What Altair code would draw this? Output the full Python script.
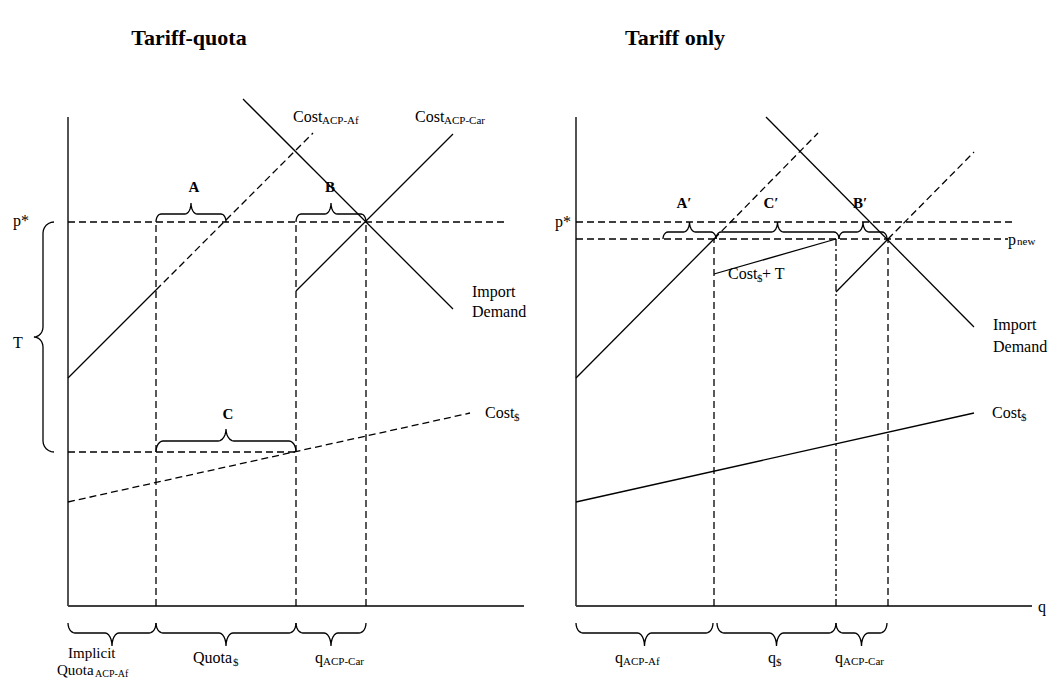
import numpy as np
import pandas as pd
import altair as alt

FONT = "Liberation Serif"

# ---------------- Tariff-quota panel (quantity q, price p; origin at axes corner)
tq_axis_len = [456, 489]                 # x-axis length, y-axis height
tq_p_star = 384
tq_p_quota = 154                         # Cost$ at the end of the $ quota
tq_q_bounds = [88, 228, 298]             # implicit quota ACP-Af | quota$ | q ACP-Car
tq_cost_af_q = [0, 88, 245]
tq_cost_af_p = [228, 316, 473]
tq_cost_car_q = [228, 385]
tq_cost_car_p = [315, 472]
tq_demand_q = [175, 385]
tq_demand_p = [507, 297]
tq_cost_d_q = [0, 402]
tq_cost_d_p = [104, 193]

# ---------------- Tariff only panel
to_axis_len = [456, 489]
to_p_star = 384
to_p_new = 367
to_q_bounds = [138, 260, 312]
to_cost_af_q = [0, 138, 242]
to_cost_af_p = [228, 367, 473]
to_cost_dT_q = [138, 260]
to_cost_dT_p = [332, 367]
to_cost_car_q = [260, 312, 398]
to_cost_car_p = [314, 367, 454]
to_demand_q = [190, 398]
to_demand_p = [489, 279]
to_cost_d_q = [0, 398]
to_cost_d_p = [104, 193]

panel_offset = {"L": 0, "R": 508}

# ---------------- line segments
rows = []
def seg(panel, q1, p1, q2, p2, style):
    rows.append(dict(panel=panel, q1=q1, p1=p1, q2=q2, p2=p2, style=style))

# left
seg("L", 0, 0, tq_axis_len[0], 0, "axis")
seg("L", 0, 0, 0, tq_axis_len[1], "axis")
seg("L", 0, tq_p_star, 439, tq_p_star, "dash")
seg("L", 0, tq_p_quota, tq_q_bounds[1], tq_p_quota, "dash")
for qb in tq_q_bounds:
    seg("L", qb, 0, qb, tq_p_star, "dash")
seg("L", tq_cost_af_q[0], tq_cost_af_p[0], tq_cost_af_q[1], tq_cost_af_p[1], "solid")
seg("L", tq_cost_af_q[1], tq_cost_af_p[1], tq_cost_af_q[2], tq_cost_af_p[2], "dash")
seg("L", tq_cost_car_q[0], tq_cost_car_p[0], tq_cost_car_q[1], tq_cost_car_p[1], "solid")
seg("L", tq_demand_q[0], tq_demand_p[0], tq_demand_q[1], tq_demand_p[1], "solid")
seg("L", tq_cost_d_q[0], tq_cost_d_p[0], tq_cost_d_q[1], tq_cost_d_p[1], "dash")
# right
seg("R", 0, 0, to_axis_len[0], 0, "axis")
seg("R", 0, 0, 0, to_axis_len[1], "axis")
seg("R", 0, to_p_star, 437, to_p_star, "dash")
seg("R", 0, to_p_new, 432, to_p_new, "dash")
seg("R", to_q_bounds[0], 0, to_q_bounds[0], to_p_new, "dash")
seg("R", to_q_bounds[1], 0, to_q_bounds[1], to_p_new, "dashdot")
seg("R", to_q_bounds[2], 0, to_q_bounds[2], to_p_new, "dash")
seg("R", to_cost_af_q[0], to_cost_af_p[0], to_cost_af_q[1], to_cost_af_p[1], "solid")
seg("R", to_cost_af_q[1], to_cost_af_p[1], to_cost_af_q[2], to_cost_af_p[2], "dash")
seg("R", to_cost_dT_q[0], to_cost_dT_p[0], to_cost_dT_q[1], to_cost_dT_p[1], "solid")
seg("R", to_cost_car_q[0], to_cost_car_p[0], to_cost_car_q[1], to_cost_car_p[1], "solid")
seg("R", to_cost_car_q[1], to_cost_car_p[1], to_cost_car_q[2], to_cost_car_p[2], "dash")
seg("R", to_demand_q[0], to_demand_p[0], to_demand_q[1], to_demand_p[1], "solid")
seg("R", to_cost_d_q[0], to_cost_d_p[0], to_cost_d_q[1], to_cost_d_p[1], "solid")

segs = pd.DataFrame(rows)
segs["X"] = segs.q1 + segs.panel.map(panel_offset)
segs["X2"] = segs.q2 + segs.panel.map(panel_offset)
segs["P"] = segs.p1
segs["P2"] = segs.p2

# ---------------- braces: spans along the axis
tq_top_braces = [(88, 158), (228, 298)]
tq_c_brace = (88, 228)
tq_bottom_braces = [(0, 88), (88, 228), (228, 298)]
tq_t_brace = (tq_p_quota, tq_p_star)
to_top_braces = [(87, 140), (140, 263), (263, 311)]
to_bottom_braces = [(0, 137), (141, 260), (260, 311)]
bottom_base = -17

def brace_points(a, b, base, sign, r1a, r1p, r2a, r2p, n=7):
    """(along, perp) points of a curly brace between a and b."""
    m = (a + b) / 2
    pts = []
    for t in np.linspace(np.pi, np.pi / 2, n):
        pts.append((a + r1a + r1a * np.cos(t), base + sign * r1p * np.sin(t)))
    for t in np.linspace(1.5 * np.pi, 2 * np.pi, n):
        pts.append((m - r2a + r2a * np.cos(t), base + sign * (r1p + r2p + r2p * np.sin(t))))
    for t in np.linspace(np.pi, 1.5 * np.pi, n):
        pts.append((m + r2a + r2a * np.cos(t), base + sign * (r1p + r2p + r2p * np.sin(t))))
    for t in np.linspace(np.pi / 2, 0, n):
        pts.append((b - r1a + r1a * np.cos(t), base + sign * r1p * np.sin(t)))
    return pts

brows = []
bid = 0
def add_brace(panel, a, b, base, sign, r1a, r1p, r2a, r2p, vertical=False):
    global bid
    for i, (u, v) in enumerate(brace_points(a, b, base, sign, r1a, r1p, r2a, r2p)):
        q, p = (v, u) if vertical else (u, v)
        brows.append(dict(bid=bid, i=i, X=q + panel_offset[panel], P=p))
    bid += 1

for a, b in tq_top_braces:
    add_brace("L", a, b, tq_p_star, 1, 5, 8, 6, 11)
add_brace("L", tq_c_brace[0], tq_c_brace[1], tq_p_quota, 1, 7, 11, 8, 12)
for a, b in tq_bottom_braces:
    add_brace("L", a, b, bottom_base, -1, 7, 10, 7, 13)
add_brace("L", tq_t_brace[0], tq_t_brace[1], -14, -1, 11, 11, 10, 9, vertical=True)
for a, b in to_top_braces:
    add_brace("R", a, b, to_p_new, 1, 5, 7, 6, 10)
for a, b in to_bottom_braces:
    add_brace("R", a, b, bottom_base, -1, 7, 10, 7, 13)
braces = pd.DataFrame(brows)

# ---------------- text labels
label_panel = ["L"] * 11 + ["R"] * 10
label_text = ["Cost", "Cost", "Import", "Demand", "Cost", "p*", "T", "Implicit", "Quota", "Quota", "q",
              "p*", "p", "Import", "Demand", "Cost", "Cost", "+ T", "q", "q", "q"]
label_q = [225, 347, 404, 404, 417, -55, -55, 0, -11, 125, 247,
           -21, 432, 417, 417, 416, 152, 186, 39, 192, 259]
label_p = [484, 484, 309, 289, 188, 380, 258, -52, -69, -57, -57,
           379, 361, 276, 254, 188, 327, 327, -57, -57, -57]
label_size = [16, 16, 16, 16, 16, 16, 16, 15, 15, 16, 16,
              16, 16, 16, 16, 16, 16, 16, 16, 16, 16]

sub_panel = ["L"] * 6 + ["R"] * 6
sub_text = ["ACP-Af", "ACP-Car", "$", "ACP-Af", "$", "ACP-Car",
            "new", "$", "$", "ACP-Af", "$", "ACP-Car"]
sub_q = [254, 376, 446, 27, 165, 255,
         441, 445, 181, 47, 200, 267]
sub_p = [482, 482, 185, -71, -60, -59,
         361, 185, 324, -59, -60, -59]
sub_size = [11, 11, 11, 10, 11, 11, 11, 11, 11, 11, 11, 11]

bold_panel = ["L", "L", "L", "R", "R", "R"]
bold_text = ["A", "B", "C", "A′", "C′", "B′"]
bold_q = [126, 262, 160, 108, 195, 284]
bold_p = [414, 414, 187, 398, 398, 398]

title_panel = ["L", "R"]
title_text = ["Tariff-quota", "Tariff only"]
title_q = [121, 99]
title_p = [561, 561]

axis_label_panel = ["R"]
axis_label_text = ["q"]
axis_label_q = [462]
axis_label_p = [-6]

def tframe(panel, text, q, p, size=None):
    d = pd.DataFrame(dict(panel=panel, text=text, q=q, p=p))
    if size is not None:
        d["fs"] = size
    d["X"] = d.q + d.panel.map(panel_offset)
    d["P"] = d.p
    return d

labels = tframe(label_panel + axis_label_panel, label_text + axis_label_text,
                label_q + axis_label_q, label_p + axis_label_p, label_size + [16])
subs = tframe(sub_panel, sub_text, sub_q, sub_p, sub_size)
bolds = tframe(bold_panel, bold_text, bold_q, bold_p)
titles = tframe(title_panel, title_text, title_q, title_p)

W, H = 1042, 671
xs = alt.Scale(domain=[-60, W - 60], nice=False, zero=False)
ys = alt.Scale(domain=[598 - H, 598], nice=False, zero=False)
X = alt.X("X:Q", scale=xs, axis=None)
Y = alt.Y("P:Q", scale=ys, axis=None)
FS = alt.Size("fs:Q", scale=None, legend=None)

def rules(style, **kw):
    return alt.Chart(segs[segs["style"] == style]).mark_rule(**kw).encode(
        x=X, y=Y, x2=alt.X2("X2:Q"), y2=alt.Y2("P2:Q"))

layers = [
    rules("axis", color="#404040", strokeWidth=1.8),
    rules("solid", color="black", strokeWidth=1.3),
    rules("dash", color="black", strokeWidth=1.3, strokeDash=[7, 4]),
    rules("dashdot", color="black", strokeWidth=1.3, strokeDash=[7, 3, 2, 3]),
    alt.Chart(braces).mark_line(color="black", strokeWidth=1.3).encode(
        x=X, y=Y, detail="bid:N", order=alt.Order("i:Q")),
    alt.Chart(labels).mark_text(font=FONT, align="left", baseline="alphabetic",
                                color="black").encode(x=X, y=Y, text="text:N", size=FS),
    alt.Chart(subs).mark_text(font=FONT, align="left", baseline="alphabetic",
                              color="black").encode(x=X, y=Y, text="text:N", size=FS),
    alt.Chart(bolds).mark_text(font=FONT, fontSize=15, fontWeight="bold", align="center",
                               baseline="alphabetic", color="black").encode(x=X, y=Y, text="text:N"),
    alt.Chart(titles).mark_text(font=FONT, fontSize=22, fontWeight="bold", align="center",
                                baseline="alphabetic", color="black").encode(x=X, y=Y, text="text:N"),
]

chart = alt.layer(*layers).properties(
    width=W, height=H, autosize=alt.AutoSizeParams(type="none"), padding=0
).configure_view(stroke=None)

chart.save("out.html", embed_options={"renderer": "svg", "actions": False})
